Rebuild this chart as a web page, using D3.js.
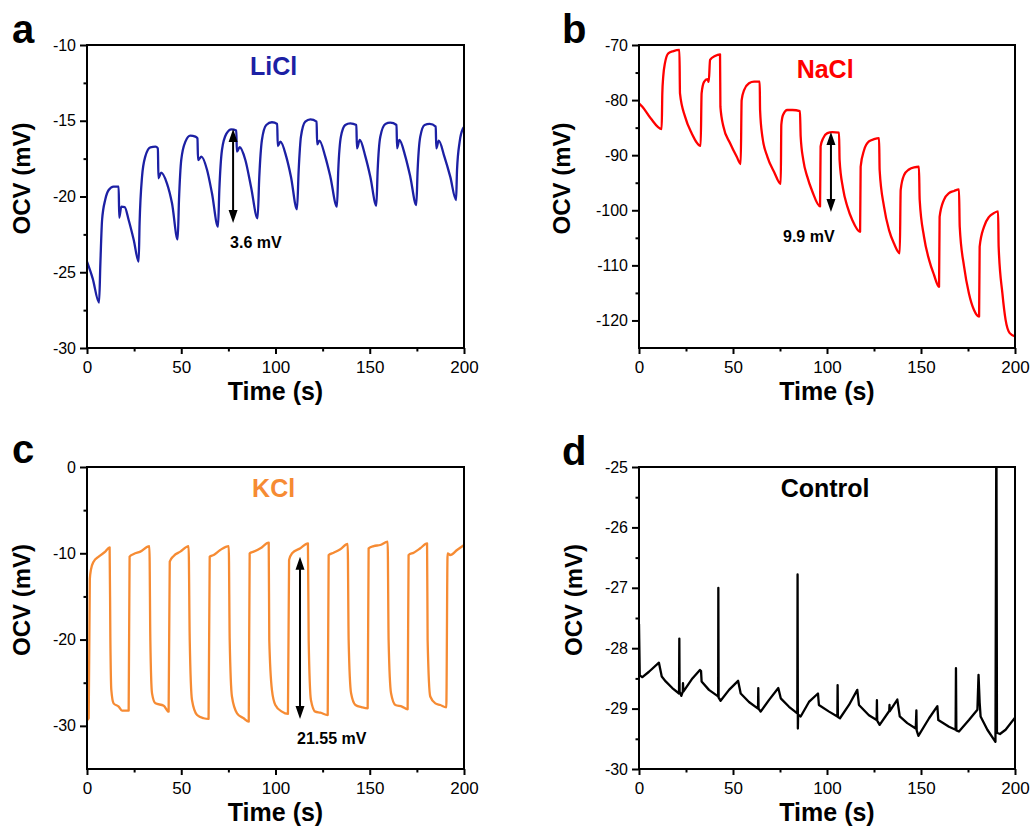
<!DOCTYPE html>
<html>
<head>
	<meta charset="utf-8">
	<script src="https://cdnjs.cloudflare.com/ajax/libs/d3/7.8.5/d3.min.js"></script>
	<style>
		body { margin: 0; background: #fff; }
		text { font-family: Arial, "Liberation Sans", sans-serif; }
	</style>
</head>
<body>
	<svg width="1032" height="829"></svg>
	<script>
		// tick labels
		const timeTicks = [0, 50, 100, 150, 200];
		const liclTicks = [-30, -25, -20, -15, -10];
		const naclTicks = [-120, -110, -100, -90, -80, -70];
		const kclTicks = [-30, -20, -10, 0];
		const controlTicks = [-30, -29, -28, -27, -26, -25];

		// [time (s), OCV (mV)]
		const liclData = [[0,-24.3],[3,-25.4],[6.4,-27.0],[7.1,-24.4],[8.0,-21.55],[9.7,-20.2],[11.5,-19.57],[14.1,-19.35],[16.8,-19.35],[17.1,-21.4],[18.2,-20.67],[20,-20.7],[22.1,-21.55],[24.8,-22.87],[27.4,-24.3],
			[27.9,-21.77],[29.2,-18.69],[30.9,-17.37],[33.6,-16.75],[36.3,-16.71],[37.6,-16.82],[37.9,-18.8],[39.3,-18.43],[42.4,-19.13],[45.1,-20.45],[48.1,-22.83],
			[48.8,-20.23],[50,-17.59],[52.2,-16.38],[54.8,-15.98],[57.5,-16.05],[58.6,-16.16],[58.9,-17.59],[60.7,-17.37],[63.7,-18.25],[66.3,-19.79],[69.5,-21.99],
			[70.2,-19.57],[71.6,-16.93],[73.9,-15.87],[76.6,-15.57],[79.2,-15.65],[79.5,-17.04],[81,-16.75],[84,-17.59],[87,-19.35],[90.5,-21.44],
			[91.4,-18.69],[92.8,-16.27],[95.1,-15.28],[98.1,-15.1],[100.9,-15.21],[101.2,-16.67],[102.6,-16.38],[105.7,-17.37],[108.2,-18.69],[111.4,-20.85],
			[112.3,-18.25],[113.5,-16.05],[115.8,-15.06],[118.5,-14.91],[121.8,-15.06],[122.1,-16.56],[123.3,-16.31],[126.4,-17.37],[129.1,-18.69],[132.6,-20.67],
			[133.3,-18.25],[134.7,-16.05],[137,-15.28],[139.7,-15.17],[142.9,-15.28],[143.2,-16.82],[144.7,-16.27],[147.7,-17.37],[150.3,-18.69],[153.5,-20.6],
			[154.2,-18.25],[155.6,-16.05],[158.3,-15.21],[160.9,-15.13],[164.2,-15.28],[164.5,-16.82],[165.7,-16.27],[168.9,-17.37],[171.5,-18.69],[174.7,-20.56],
			[175.4,-18.25],[176.8,-16.05],[179.1,-15.28],[181.8,-15.21],[185,-15.39],[185.3,-16.82],[186.6,-16.31],[189.6,-17.37],[192.7,-18.69],[195.8,-20.23],
			[196.3,-18.25],[197.7,-16.38],[199.5,-15.5],[200,-15.4]];

		const naclData = [[0,-80.6],[1.8,-81.2],[6.2,-83.3],[12.05,-85.25],[12.4,-78.8],[12.9,-75.7],[13.8,-73.3],[15.6,-71.5],[18.3,-71.1],[21.5,-70.9],[21.8,-78.8],[24.5,-83],[28,-86],[32.8,-88.3],
			[33.3,-78.8],[34.6,-76.7],[36.4,-76.2],[37.1,-76.7],[37.8,-72.7],[40.4,-72],[43.1,-71.7],[43.3,-81.2],[44.9,-84.8],[48.4,-87.8],[52,-90.3],[54.1,-91.6],
			[54.6,-80],[55.9,-78.2],[58.5,-76.95],[61.2,-76.65],[64.2,-76.65],[64.4,-81.8],[65.6,-86.6],[68.3,-90.3],[71.8,-93],[75.4,-95.2],
			[75.7,-84.5],[76.6,-82.7],[78.9,-81.8],[81.6,-81.8],[85.6,-82],[86,-86.6],[87.4,-90.9],[89.5,-93.9],[92.2,-96.6],[96.3,-99.3],
			[96.6,-88.4],[98,-86.9],[100.2,-86],[102.8,-85.8],[106.4,-85.9],[106.7,-90.9],[108.5,-96],[110.8,-99.3],[113.5,-101.8],[117.6,-103.9],
			[117.9,-92.1],[119.7,-89.1],[122.3,-87.5],[125,-87.1],[127.7,-86.9],[128,-92.7],[130.3,-99.3],[133,-103.6],[135.6,-106],[138.7,-107.8],
			[139.2,-96.3],[141,-93.6],[143.6,-92.6],[146.3,-92.2],[148.9,-92.1],[149.3,-98.1],[151.6,-104.8],[154.3,-109],[156.9,-111.7],[159.6,-113.9],
			[159.9,-101.2],[162.2,-98.1],[164.9,-96.9],[167.6,-96.5],[170.2,-96.2],[170.6,-103],[172.9,-110.2],[175.5,-115.1],[178.2,-118.1],[180.9,-119.3],
			[181.2,-106.6],[183.5,-103],[186.2,-101.2],[188.8,-100.5],[191,-100.2],[191.3,-106.6],[193.3,-115.1],[195,-119.9],[197.2,-122.3],[200,-122.9]];

		const kclData = [[0.3,-29.3],[0.9,-29.1],[1.5,-13],[2.1,-11.9],[3.5,-10.97],[6.2,-10.39],[9.7,-9.81],[12,-9.31],[12.4,-20.05],[12.9,-25.84],[14.1,-27.39],[16.8,-27.77],[18.6,-28.24],[22.1,-28.24],
			[22.6,-10.39],[24.8,-10.08],[28.3,-9.81],[33.1,-9.16],[33.6,-20.05],[34.5,-26.23],[36.3,-27.39],[40.7,-27.66],[43.3,-28.35],
			[43.9,-10.97],[46,-10.31],[49.5,-9.81],[53.9,-9.16],[54.5,-20.05],[55.7,-27],[58.4,-28.74],[61.9,-29.12],[64.5,-29.2],
			[65.1,-10.39],[67.2,-10.2],[70.7,-9.62],[75.2,-9.16],[75.7,-20.05],[76.9,-26.6],[79.6,-28.54],[83.1,-29.12],[85.8,-29.51],
			[86.3,-10],[88.4,-9.81],[92,-9.42],[96.4,-8.77],[96.7,-20.05],[98.1,-25.84],[99.9,-27.58],[103.4,-28.35],[106.6,-28.62],
			[107.2,-10.78],[108.8,-10],[113.2,-9.42],[117.2,-8.85],[117.6,-20.05],[118.8,-27],[121.1,-28.35],[123.8,-28.47],[127.7,-28.74],
			[128.2,-10.2],[130.9,-9.93],[134.4,-9.54],[138.3,-8.92],[138.8,-20.05],[140.1,-26.23],[142.4,-27.58],[145.9,-27.85],[148.9,-27.97],
			[149.4,-9.42],[152.1,-9.16],[155.6,-9.04],[159.5,-8.65],[160,-20.05],[161.3,-26.23],[163.6,-27.58],[167.1,-27.77],[170.1,-28.08],
			[170.6,-10.2],[173.3,-9.93],[176.8,-9.42],[180.4,-8.85],[180.7,-20.05],[182.1,-26.6],[184.8,-27.39],[187.4,-27.58],[190.6,-27.85],
			[191.3,-10],[192.7,-10.2],[196.3,-9.62],[200,-9.04]];

		const controlData = [[0,-27.6],[0.4,-28.45],[1.8,-28.48],[5.3,-28.39],[10.6,-28.24],[12.1,-28.47],[14.2,-28.55],[17.7,-28.66],[21.3,-28.75],[21.45,-27.84],[21.6,-28.72],[22.5,-28.79],[23.3,-28.72],[23.4,-28.58],[23.6,-28.72],
			[28.4,-28.5],[32.4,-28.36],[33.0,-28.38],[33.3,-28.55],[37.2,-28.69],[41.7,-28.79],[42.1,-28.8],[42.2,-27.0],[42.35,-28.82],[43.4,-28.87],[47.9,-28.69],[52.7,-28.54],[54.1,-28.75],[58.5,-28.89],
			[63.3,-29.0],[63.45,-28.66],[63.6,-29.0],[64.7,-29.05],[69.1,-28.86],[74.1,-28.66],[75.4,-28.83],[79.8,-28.97],[84.2,-29.08],[84.35,-26.78],[84.5,-29.33],[84.65,-29.1],[86,-29.13],
			[90.4,-28.89],[95.2,-28.75],[95.7,-28.94],[101.1,-29.05],[105.5,-29.13],[105.65,-28.61],[105.8,-29.14],[106.9,-29.16],[111.7,-28.94],[116.1,-28.69],[117,-28.94],
			[122.3,-29.11],[126.4,-29.19],[126.55,-28.86],[126.7,-29.2],[128,-29.27],[133.1,-29.04],[133.25,-28.94],[133.4,-29.04],[137.4,-28.85],[138.7,-29.13],[142.7,-29.24],
			[147.2,-29.33],[147.55,-29.03],[147.7,-29.36],[148.6,-29.45],[154.3,-29.16],[158.7,-28.96],[159.2,-29.19],[164.9,-29.3],[168.4,-29.35],[168.6,-28.33],[168.8,-29.36],
			[170.2,-29.38],[175.5,-29.19],[180,-29.02],[180.6,-28.44],[181.2,-28.9],[181.7,-29.13],[185.3,-29.35],[189.6,-29.55],[190.1,-24.0],[190.4,-29.4],[192,-29.42],[195,-29.35],[200,-29.15]];

		let svg = d3.select("svg");

		// panel setup
		let panels = [
			{letter: "a", lx: 12, ly: 43, box: {l: 87, t: 45, r: 464, b: 348}, yDom: [-30, -10], yTicks: liclTicks,
				data: liclData, color: "#1c20a4", name: "LiCl", curve: d3.curveMonotoneX, titleOff: 57,
				arrow: {t: 77.5, v1: -15.54, v2: -21.75}, note: {text: "3.6 mV", t: 75.9, v: -23.4}},
			{letter: "b", lx: 562, ly: 43, box: {l: 639, t: 45, r: 1015, b: 348}, yDom: [-125, -70], yTicks: naclTicks,
				data: naclData, color: "#ff0000", name: "NaCl", curve: d3.curveMonotoneX, titleOff: 69,
				arrow: {t: 102.1, v1: -85.8, v2: -100.3}, note: {text: "9.9 mV", t: 76.6, v: -105.8}},
			{letter: "c", lx: 12, ly: 463, box: {l: 87, t: 467, r: 464, b: 769}, yDom: [-35, 0], yTicks: kclTicks,
				data: kclData, color: "#f68b33", name: "KCl", curve: d3.curveMonotoneX, titleOff: 57,
				arrow: {t: 113, v1: -10.4, v2: -29.2}, note: {text: "21.55 mV", t: 111.4, v: -32.1}},
			{letter: "d", lx: 562, ly: 465, box: {l: 639, t: 467, r: 1015, b: 769}, yDom: [-30, -25], yTicks: controlTicks,
				data: controlData, color: "#000000", name: "Control", curve: d3.curveLinear, titleOff: 57}
		];

		panels.forEach(function(p, i) {
			let w = p.box.r - p.box.l, h = p.box.b - p.box.t;
			let g = svg.append("g").attr("transform", "translate(" + p.box.l + "," + p.box.t + ")");
			let x = d3.scaleLinear().domain([0, 200]).range([0, w]);
			let y = d3.scaleLinear().domain(p.yDom).range([h, 0]);

			//minor ticks sit halfway between majors
			let step = p.yTicks[1] - p.yTicks[0];
			let yMinor = p.yTicks.slice(0, -1).map(function(d) { return d + step / 2; });
			let xMinor = timeTicks.slice(0, -1).map(function(d) { return d + 25; });

			g.append("clipPath").attr("id", "clip" + i)
				.append("rect").attr("width", w).attr("height", h);

			//line
			g.append("path")
				.datum(p.data)
				.attr("clip-path", "url(#clip" + i + ")")
				.attr("fill", "none")
				.attr("stroke", p.color)
				.attr("stroke-width", 2.3)
				.attr("stroke-linejoin", "round")
				.attr("d", d3.line().curve(p.curve)
					.x(function(d) { return x(d[0]); })
					.y(function(d) { return y(d[1]); }));

			//axes
			let yAxis = g.append("g")
				.call(d3.axisLeft(y).tickValues(p.yTicks).tickSize(7).tickPadding(4).tickFormat(function(d) { return String(d); }));
			g.append("g").call(d3.axisLeft(y).tickValues(yMinor).tickSize(3.5).tickFormat(""));
			let xAxis = g.append("g").attr("transform", "translate(0," + h + ")")
				.call(d3.axisBottom(x).tickValues(timeTicks).tickSize(6).tickPadding(7));
			g.append("g").attr("transform", "translate(0," + h + ")")
				.call(d3.axisBottom(x).tickValues(xMinor).tickSize(3.5).tickFormat(""));
			g.selectAll(".domain").remove();
			g.selectAll(".tick line").attr("stroke", "#000").attr("stroke-width", 2);
			yAxis.selectAll("text").attr("font-size", 16).attr("fill", "#000").attr("font-family", "Arial, 'Liberation Sans', sans-serif");
			xAxis.selectAll("text").attr("font-size", 17).attr("fill", "#000").attr("font-family", "Arial, 'Liberation Sans', sans-serif");

			//frame
			g.append("rect")
				.attr("width", w).attr("height", h)
				.attr("fill", "none").attr("stroke", "#000").attr("stroke-width", 2);

			//axis titles
			g.append("text")
				.attr("x", w / 2).attr("y", h + 52)
				.attr("text-anchor", "middle")
				.style("font", "bold 25px Arial, 'Liberation Sans', sans-serif")
				.text("Time (s)");
			g.append("text")
				.attr("transform", "translate(" + (-p.titleOff) + "," + (h / 2 - 18) + ") rotate(-90)")
				.attr("text-anchor", "middle")
				.style("font", "bold 24px Arial, 'Liberation Sans', sans-serif")
				.text("OCV (mV)");

			//series name
			g.append("text")
				.attr("x", w * 0.495).attr("y", p.name == "NaCl" ? 33 : 30)
				.attr("text-anchor", "middle")
				.attr("fill", p.color)
				.style("font", "bold 25px Arial, 'Liberation Sans', sans-serif")
				.text(p.name);

			//double arrow + note
			if (p.arrow) {
				let ax = x(p.arrow.t), y1 = y(p.arrow.v1), y2 = y(p.arrow.v2);
				g.append("line")
					.attr("x1", ax).attr("x2", ax)
					.attr("y1", y1 + 8).attr("y2", y2 - 8)
					.attr("stroke", "#000").attr("stroke-width", 2);
				g.append("path")
					.attr("d", "M" + ax + "," + y1 + "L" + (ax - 4.5) + "," + (y1 + 13) + "L" + (ax + 4.5) + "," + (y1 + 13) + "Z"
						+ "M" + ax + "," + y2 + "L" + (ax - 4.5) + "," + (y2 - 13) + "L" + (ax + 4.5) + "," + (y2 - 13) + "Z")
					.attr("fill", "#000");
				g.append("text")
					.attr("x", x(p.note.t)).attr("y", y(p.note.v))
					.style("font", "bold 16px Arial, 'Liberation Sans', sans-serif")
					.text(p.note.text);
			}

			//panel letter
			svg.append("text")
				.attr("x", p.lx).attr("y", p.ly)
				.style("font", "bold 40px Arial, 'Liberation Sans', sans-serif")
				.text(p.letter);
		});
	</script>
</body>
</html>
